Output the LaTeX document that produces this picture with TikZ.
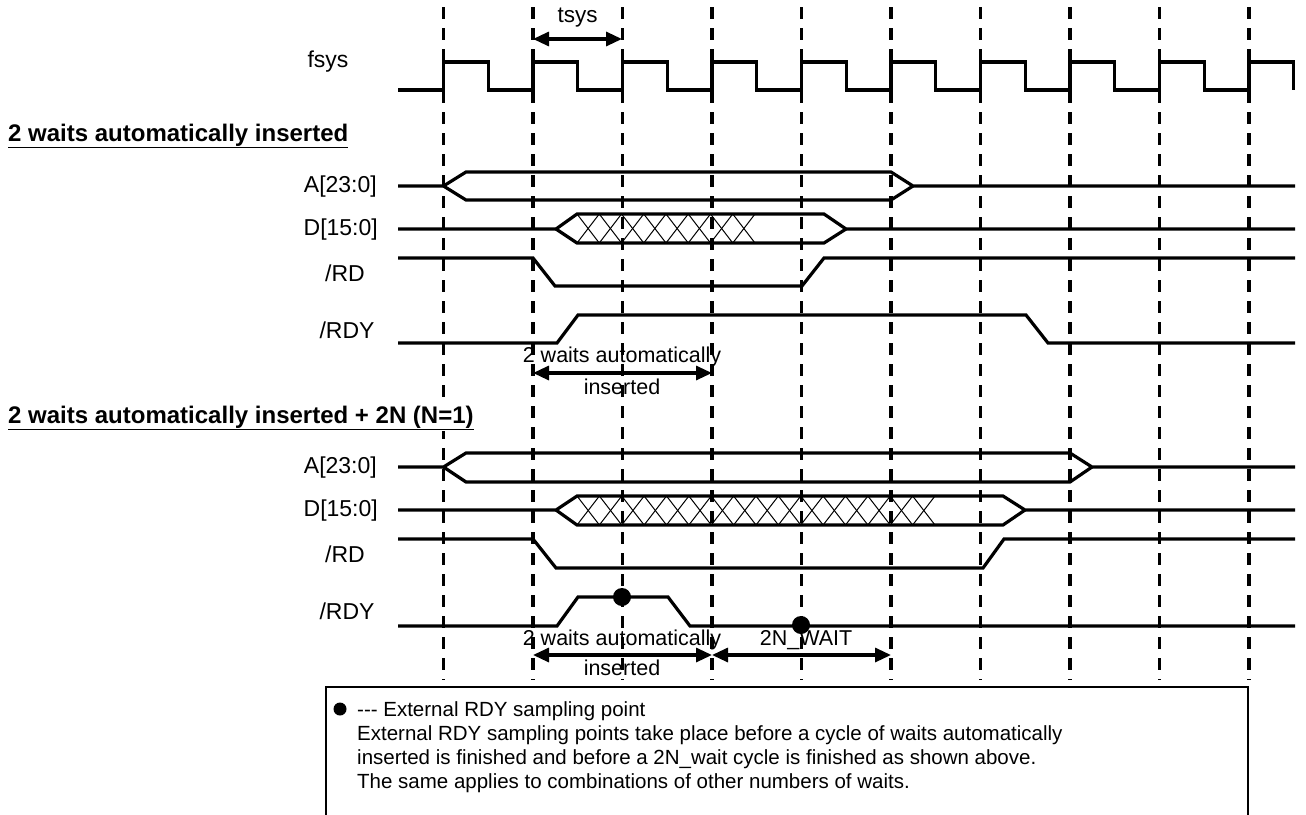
\documentclass[tikz,border=0pt]{standalone}
\usepackage{fontspec}
\setmainfont{Liberation Sans}
\usetikzlibrary{arrows.meta}
\begin{document}
\begin{tikzpicture}[x=1pt,y=-1pt,
  sig/.style={line width=3.2pt,line join=miter,line cap=butt},
  gridline/.style={line width=3.5pt,dash pattern=on 12pt off 9pt},
  hatchline/.style={line width=1pt},
  dimarrow/.style={line width=3.2pt,{Triangle[length=16pt,width=14pt]}-{Triangle[length=16pt,width=14pt]}},
  lbl/.style={font=\fontsize{23}{27}\selectfont,inner sep=0pt},
  ann/.style={font=\fontsize{21.5}{25}\selectfont,inner sep=0pt},
  txt/.style={font=\fontsize{20.5}{24}\selectfont,inner sep=0pt,anchor=base west},
  ttl/.style={font=\bfseries\fontsize{24}{28}\selectfont,inner sep=1pt,anchor=base west,fill=white},
  dot/.style={circle,fill=black,inner sep=0pt,minimum size=18pt}]
\useasboundingbox (0,0) rectangle (1306,814);
\fill[white] (0,0) rectangle (1306,814);

% dashed clock grid
\foreach \k in {0,...,9}{
  \coordinate (gt\k) at ({443.5+89.5*\k},7);
  \coordinate (gb\k) at ({443.5+89.5*\k},680);
  \draw[gridline] (gt\k) -- (gb\k);
}

% fsys clock
\node[lbl] (fsys) at (328,62) {fsys};
\draw[sig] (398,90) foreach \k in {0,...,9}{
  -- ({443.5+89.5*\k},90) -- ({443.5+89.5*\k},62) -- ({488.25+89.5*\k},62) -- ({488.25+89.5*\k},90)};

% tsys
\coordinate (ts1) at (533,39);
\coordinate (ts2) at (622,39);
\draw[dimarrow] (ts1) -- (ts2);
\node[font=\fontsize{22.5}{26}\selectfont,inner sep=0pt] (tsys) at (577.5,18) {tsys};

% ---------------- section 1
\node[ttl] (t1) at (7,141) {\underline{2 waits automatically inserted}};
\node[lbl,anchor=east] (a1) at (377,187) {A[23:0]};
\node[lbl,anchor=east] (d1) at (378,230) {D[15:0]};
\node[lbl] (rd1) at (345,273) {/RD};
\node[lbl] (rdy1) at (347,330) {/RDY};

% A bus
\draw[sig] (398,186) -- (443.5,186) -- (466,172) -- (891,172) -- (913,186) -- (1295,186);
\draw[sig] (443.5,186) -- (466,200) -- (891,200) -- (913,186);
% D bus
\draw[sig] (398,229) -- (556,229) -- (577,214) -- (824,214) -- (846,229) -- (1295,229);
\draw[sig] (556,229) -- (577,243) -- (824,243) -- (846,229);
\foreach \i in {0,...,7}{
  \draw[hatchline] ({577+22.25*\i},214) -- ({577+22.25*(\i+1)},243);
  \draw[hatchline] ({577+22.25*\i},243) -- ({577+22.25*(\i+1)},214);
}
% /RD
\draw[sig] (398,258) -- (533,258) -- (555,286) -- (802,286) -- (824,258) -- (1295,258);
% /RDY
\draw[sig] (398,343) -- (557,343) -- (578,315) -- (1026,315) -- (1048,343) -- (1295,343);
% wait arrow
\coordinate (w1a) at (533,373);
\coordinate (w1b) at (712,373);
\draw[dimarrow] (w1a) -- (w1b);
\node[ann] (w1t) at (622,357) {2 waits automatically};
\node[ann] (w1u) at (622,387) {inserted};

% ---------------- section 2
\node[ttl] (t2) at (7,423) {\underline{2 waits automatically inserted + 2N (N=1)}};
\node[lbl,anchor=east] (a2) at (377,468) {A[23:0]};
\node[lbl,anchor=east] (d2) at (378,511) {D[15:0]};
\node[lbl] (rd2) at (345,554) {/RD};
\node[lbl] (rdy2) at (347,611) {/RDY};

% A bus
\draw[sig] (398,467) -- (443.5,467) -- (466,453) -- (1070,453) -- (1092,467) -- (1295,467);
\draw[sig] (443.5,467) -- (466,482) -- (1070,482) -- (1092,467);
% D bus
\draw[sig] (398,510) -- (556,510) -- (577,496) -- (1003,496) -- (1025,510) -- (1295,510);
\draw[sig] (556,510) -- (577,525) -- (1003,525) -- (1025,510);
\foreach \i in {0,...,15}{
  \draw[hatchline] ({577+22.375*\i},496) -- ({577+22.375*(\i+1)},525);
  \draw[hatchline] ({577+22.375*\i},525) -- ({577+22.375*(\i+1)},496);
}
% /RD
\draw[sig] (398,539) -- (533,539) -- (556,568) -- (983,568) -- (1004,539) -- (1295,539);
% /RDY
\draw[sig] (398,626) -- (557,626) -- (578,597) -- (668,597) -- (690,626) -- (1295,626);
\node[dot] (s1) at (622,597) {};
\node[dot] (s2) at (801,625) {};
% arrows
\coordinate (w2a) at (533,655);
\coordinate (w2b) at (712,655);
\coordinate (w2c) at (891,655);
\draw[dimarrow] (w2a) -- (w2b);
\draw[dimarrow] (w2b) -- (w2c);
\node[ann] (w2t) at (622,640) {2 waits automatically};
\node[ann] (w2u) at (622,668) {inserted};
\node[ann] (nw) at (806,640) {2N\_WAIT};

% ---------------- legend box
\draw[line width=1.5pt] (326,816) -- (326,687) -- (1248,687) -- (1248,816);
\node[circle,fill=black,inner sep=0pt,minimum size=13pt] (bul) at (340,709) {};
\node[txt] (l1) at (357,716) {-{}-{}- External RDY sampling point};
\node[txt] (l2) at (357,740) {External RDY sampling points take place before a cycle of waits automatically};
\node[txt] (l3) at (357,764) {inserted is finished and before a 2N\_wait cycle is finished as shown above.};
\node[txt] (l4) at (357,788) {The same applies to combinations of other numbers of waits.};
\end{tikzpicture}
\end{document}
